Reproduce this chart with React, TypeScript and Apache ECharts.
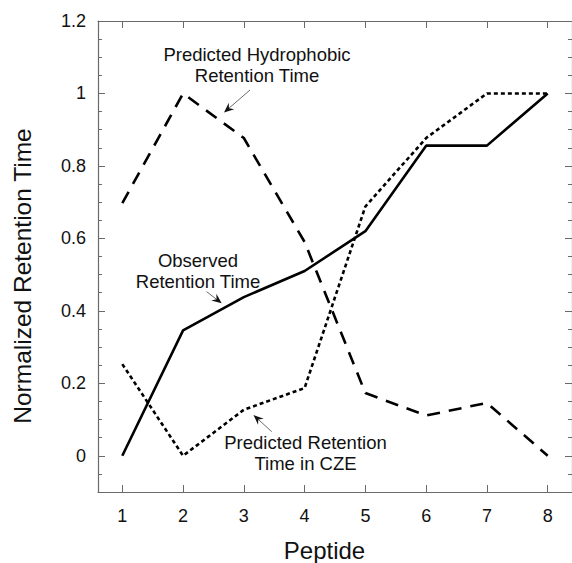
import React, { useEffect, useRef } from "react";
import * as echarts from "echarts";

const peptides = [1, 2, 3, 4, 5, 6, 7, 8];
const observed = [0, 0.346, 0.438, 0.51, 0.62, 0.856, 0.856, 1.0];
const hydrophobic = [0.697, 1.0, 0.877, 0.59, 0.173, 0.111, 0.146, 0.0];
const cze = [0.253, 0, 0.127, 0.187, 0.688, 0.877, 1.0, 1.0];

const yMajorTicks = [0, 0.2, 0.4, 0.6, 0.8, 1, 1.2];
const yMinorTicks = [-0.05, 0.05, 0.1, 0.15, 0.25, 0.3, 0.35, 0.45, 0.5, 0.55, 0.65, 0.7, 0.75, 0.85, 0.9, 0.95, 1.05, 1.1, 1.15];
const xTicks = [1, 2, 3, 4, 5, 6, 7, 8];

const FONT = "'Liberation Sans', Arial, Helvetica, sans-serif";
const AXIS_COLOR = "#6a6a6a";
const TEXT_COLOR = "#111";

function arrow(x1: number, y1: number, x2: number, y2: number) {
  const dx = x2 - x1;
  const dy = y2 - y1;
  const L = Math.hypot(dx, dy);
  const ux = dx / L;
  const uy = dy / L;
  const px = -uy;
  const py = ux;
  const headLen = 10;
  const headW = 4.2;
  const bx = x2 - ux * headLen;
  const by = y2 - uy * headLen;
  const nx = x2 - ux * headLen * 0.65;
  const ny = y2 - uy * headLen * 0.65;
  return {
    type: "group",
    children: [
      {
        type: "line",
        shape: { x1, y1, x2: nx, y2: ny },
        style: { stroke: "#444", lineWidth: 0.8 },
      },
      {
        type: "polygon",
        shape: {
          points: [
            [x2, y2],
            [bx + px * headW, by + py * headW],
            [nx, ny],
            [bx - px * headW, by - py * headW],
          ],
        },
        style: { fill: "#111" },
      },
    ],
  };
}

function annot(text: string, x: number, y: number) {
  return {
    type: "text",
    x,
    y,
    style: {
      text,
      fontSize: 18.5,
      fontFamily: FONT,
      fill: TEXT_COLOR,
      align: "center",
      verticalAlign: "middle",
      lineHeight: 21.7,
    },
  };
}

export default function App() {
  const ref = useRef<HTMLDivElement>(null);
  useEffect(() => {
    if (!ref.current) return;
    const chart = echarts.init(ref.current, undefined, { renderer: "svg" });
    const toPairs = (vals: number[]) => peptides.map((p, i) => [p, vals[i]]);
    const xBase = {
      type: "value",
      min: 0.6,
      max: 8.4,
      splitLine: { show: false },
      axisLine: { show: true, onZero: false, lineStyle: { color: AXIS_COLOR, width: 1.2 } },
      axisTick: { show: true, inside: true, length: 7, customValues: xTicks, lineStyle: { color: AXIS_COLOR, width: 1 } },
    };
    const yBase = {
      type: "value",
      min: -0.1,
      max: 1.2,
      splitLine: { show: false },
    };
    chart.setOption({
      animation: false,
      grid: { left: 98, top: 21, width: 481, height: 471, containLabel: false },
      xAxis: [
        {
          ...xBase,
          position: "bottom",
          axisLabel: {
            customValues: xTicks,
            fontSize: 18,
            fontFamily: FONT,
            color: TEXT_COLOR,
            margin: 15,
          },
        },
        {
          ...xBase,
          position: "top",
          axisLabel: { show: false },
        },
      ],
      yAxis: [
        {
          ...yBase,
          position: "left",
          axisLine: { show: true, onZero: false, lineStyle: { color: AXIS_COLOR, width: 1.2 } },
          axisTick: { show: true, inside: true, length: 7, customValues: yMajorTicks, lineStyle: { color: AXIS_COLOR, width: 1 } },
          axisLabel: {
            customValues: yMajorTicks,
            fontSize: 18,
            fontFamily: FONT,
            color: TEXT_COLOR,
            margin: 12,
            formatter: (v: number) => String(Math.round(v * 10) / 10),
          },
        },
        {
          ...yBase,
          position: "left",
          axisLine: { show: false, onZero: false },
          axisTick: { show: true, inside: true, length: 4, customValues: yMinorTicks, lineStyle: { color: AXIS_COLOR, width: 1 } },
          axisLabel: { show: false },
        },
        {
          ...yBase,
          position: "right",
          axisLine: { show: true, onZero: false, lineStyle: { color: AXIS_COLOR, width: 1.2 } },
          axisTick: { show: true, inside: true, length: 7, customValues: yMajorTicks, lineStyle: { color: AXIS_COLOR, width: 1 } },
          axisLabel: { show: false },
        },
        {
          ...yBase,
          position: "right",
          axisLine: { show: false, onZero: false },
          axisTick: { show: true, inside: true, length: 4, customValues: yMinorTicks, lineStyle: { color: AXIS_COLOR, width: 1 } },
          axisLabel: { show: false },
        },
      ],
      series: [
        {
          name: "Observed Retention Time",
          type: "line",
          data: toPairs(observed),
          symbol: "none",
          lineStyle: { color: "#000", width: 2.6, type: "solid" },
          z: 3,
        },
        {
          name: "Predicted Hydrophobic Retention Time",
          type: "line",
          data: toPairs(hydrophobic),
          symbol: "none",
          lineStyle: { color: "#000", width: 2.6, type: [13, 9], cap: "butt" },
          z: 2,
        },
        {
          name: "Predicted Retention Time in CZE",
          type: "line",
          data: toPairs(cze),
          symbol: "none",
          lineStyle: { color: "#000", width: 2.6, type: [4, 3], cap: "butt" },
          z: 2,
        },
      ],
      graphic: [
        {
          type: "text",
          x: 22,
          y: 276,
          rotation: Math.PI / 2,
          style: {
            text: "Normalized Retention Time",
            fontSize: 24.5,
            fontFamily: FONT,
            fill: TEXT_COLOR,
            align: "center",
            verticalAlign: "middle",
          },
        },
        {
          type: "text",
          x: 324.5,
          y: 550,
          style: {
            text: "Peptide",
            fontSize: 24,
            fontFamily: FONT,
            fill: TEXT_COLOR,
            align: "center",
            verticalAlign: "middle",
          },
        },
        annot("Predicted Hydrophobic\nRetention Time", 257, 65),
        annot("Observed\nRetention Time", 198, 271),
        annot("Predicted Retention\nTime in CZE", 305.5, 453),
        arrow(250, 90, 224, 112.5),
        arrow(206.7, 291.7, 221.7, 303.3),
        arrow(271.7, 431.7, 253.5, 415),
      ],
    });
    return () => chart.dispose();
  }, []);
  return (
    <div
      ref={ref}
      style={{ position: "fixed", left: 0, top: 0, width: 572, height: 563, background: "#fff" }}
    />
  );
}
